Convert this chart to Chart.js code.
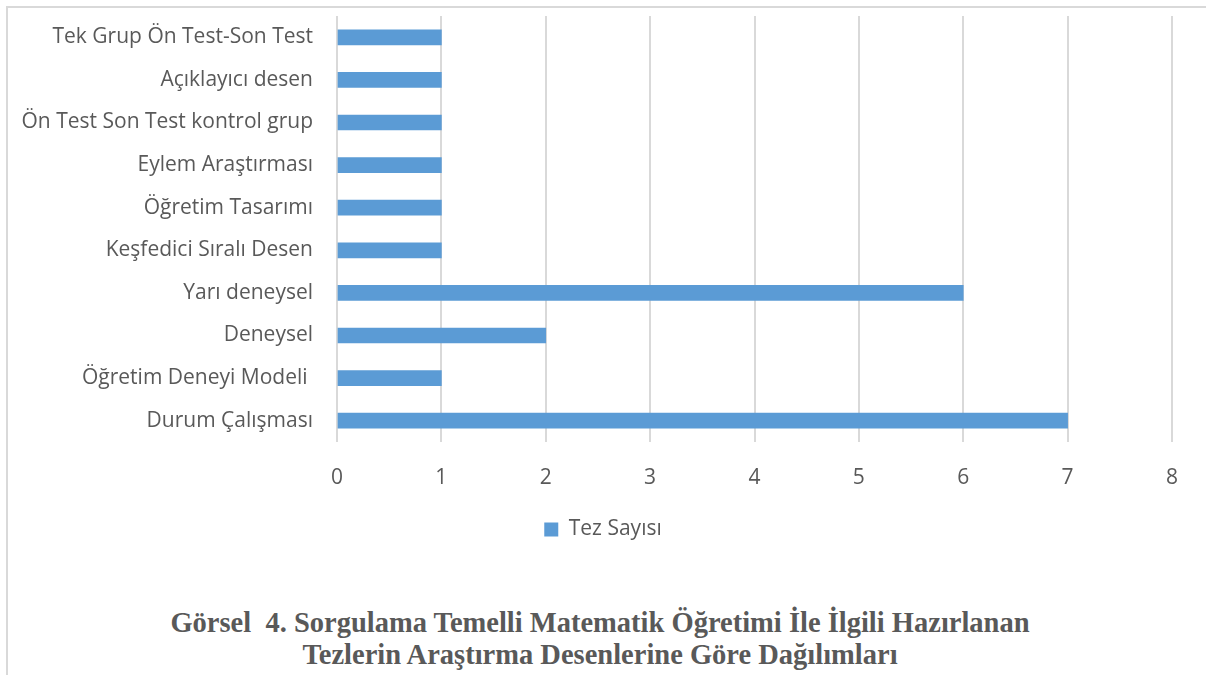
<!DOCTYPE html>
<html>
<head>
<meta charset="utf-8">
<script src="https://cdn.jsdelivr.net/npm/chart.js@4"></script>
<style>
  body { margin: 0; background: #fff; width: 1206px; height: 675px; overflow: hidden; position: relative; }
  #frame { position: absolute; left: 6px; top: 6px; width: 1300px; height: 800px; border-left: 2px solid #d9d9d9; border-top: 2px solid #d9d9d9; }
  #wrap { position: absolute; left: 0; top: 0; width: 1206px; height: 563px; }
  #caption { position: absolute; left: 0; top: 607px; width: 1200px; text-align: center; white-space: pre;
    font-family: "Liberation Serif", serif; font-weight: bold; font-size: 28.5px; line-height: 32px; color: #595959; }
</style>
</head>
<body>
<div id="frame"></div>
<div id="wrap"><canvas id="myChart"></canvas></div>
<div id="caption">Görsel  4. Sorgulama Temelli Matematik Öğretimi İle İlgili Hazırlanan
Tezlerin Araştırma Desenlerine Göre Dağılımları</div>
<script>
const categories = [
  "Tek Grup Ön Test-Son Test",
  "Açıklayıcı desen",
  "Ön Test Son Test kontrol grup",
  "Eylem Araştırması",
  "Öğretim Tasarımı",
  "Keşfedici Sıralı Desen",
  "Yarı deneysel",
  "Deneysel",
  "Öğretim Deneyi Modeli ",
  "Durum Çalışması"
];
const tezSayisi = [1, 1, 1, 1, 1, 1, 6, 2, 1, 7];
const seriesLabel = "Tez Sayısı";

const textColor = "#595959";
const gridColor = "#d9d9d9";
const font = "Open Sans";

const chart = document.querySelector("#myChart");

// legend sits centred on the whole frame, not on the padded area
const shiftLegend = {
  id: "shiftLegend",
  afterLayout: (c) => {
    if (c.legend) c.legend.left = 34;
  },
};

const config = {
  type: "bar",
  data: {
    labels: categories,
    datasets: [
      {
        label: seriesLabel,
        data: tezSayisi,
        backgroundColor: "#5b9bd5",
        barThickness: 15,
      },
    ],
  },
  options: {
    indexAxis: "y",
    responsive: true,
    maintainAspectRatio: false,
    animation: false,
    layout: { padding: { top: 16, right: 34, bottom: 13, left: 0 } },
    scales: {
      x: {
        min: 0,
        max: 8,
        ticks: { stepSize: 1, color: textColor, font: { family: font, size: 21 }, padding: 23 },
        grid: { color: gridColor, lineWidth: 2, drawTicks: false },
        border: { display: false },
        afterFit: (scale) => {
          scale.height = 67;
          scale.paddingLeft = 0;
          scale.paddingRight = 0;
        },
      },
      y: {
        ticks: { color: textColor, font: { family: font, size: 21 }, padding: 16 },
        grid: { display: false },
        border: { display: false },
        afterFit: (scale) => {
          scale.width = 337;
          scale.paddingTop = 0;
          scale.paddingBottom = 0;
        },
      },
    },
    plugins: {
      tooltip: { enabled: false },
      legend: {
        position: "bottom",
        labels: {
          color: textColor,
          font: { family: font, size: 21 },
          boxWidth: 14,
          boxHeight: 14,
          padding: 10,
        },
      },
    },
  },
  plugins: [shiftLegend],
};

new Chart(chart, config);
</script>
</body>
</html>
